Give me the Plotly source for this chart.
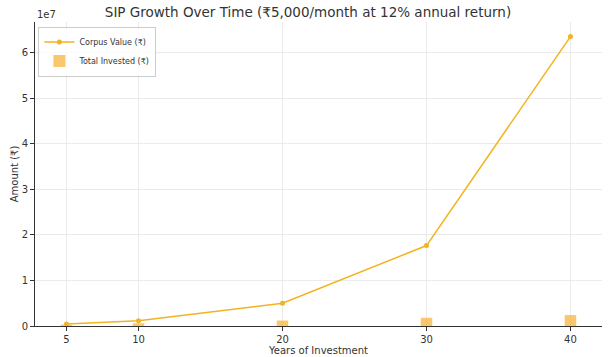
import plotly.graph_objects as go

years = [5, 10, 20, 30, 40]
corpus = [412000, 1160000, 4990000, 17650000, 63500000]
invested = [300000, 600000, 1200000, 1800000, 2400000]
ytick_vals = [0, 1e7, 2e7, 3e7, 4e7, 5e7, 6e7]
ytick_text = ["0", "1", "2", "3", "4", "5", "6"]

line_color = "#f2b321"
bar_color = "rgba(250,180,60,0.75)"

fig = go.Figure()
fig.add_trace(go.Scatter(
    x=years, y=corpus, mode="lines+markers", name="Corpus Value (₹)",
    line=dict(color=line_color, width=1.5),
    marker=dict(color=line_color, size=5),
))
fig.add_trace(go.Bar(
    x=years, y=invested, name="Total Invested (₹)", width=0.8,
    marker=dict(color=bar_color, line=dict(width=0)),
))

fig.update_layout(
    width=616, height=357,
    margin=dict(l=35, r=14, t=22, b=31),
    paper_bgcolor="white", plot_bgcolor="white",
    font=dict(family="DejaVu Sans", color="#333333", size=10),
    title=dict(text="SIP Growth Over Time (₹5,000/month at 12% annual return)",
               x=0.5, xanchor="center", yref="container", y=0.966, yanchor="middle",
               font=dict(size=13.5, color="#333333"), automargin=False),
    showlegend=True,
    legend=dict(x=0.006, y=0.985, xanchor="left", yanchor="top",
                bgcolor="rgba(255,255,255,0.8)", bordercolor="#cccccc", borderwidth=1,
                font=dict(size=8, color="#333333"), tracegroupgap=0,
                itemwidth=30),
    xaxis=dict(
        title=dict(text="Years of Investment", font=dict(size=10), standoff=0),
        range=[2.81, 42.19], tickvals=years, automargin=False,
        showline=True, linecolor="#333333", linewidth=1,
        ticks="outside", ticklen=4, tickcolor="#333333",
        showgrid=True, gridcolor="#ebebeb", gridwidth=0.8, zeroline=False,
    ),
    yaxis=dict(
        title=dict(text="Amount (₹)", font=dict(size=10), standoff=1),
        range=[0, 6.67e7], tickvals=ytick_vals, ticktext=ytick_text, automargin=False,
        showline=True, linecolor="#333333", linewidth=1,
        ticks="outside", ticklen=4, tickcolor="#333333",
        showgrid=True, gridcolor="#ebebeb", gridwidth=0.8, zeroline=False,
    ),
    annotations=[dict(text="1e7", xref="paper", yref="paper", x=0, y=1.0,
                      xanchor="left", yanchor="middle", showarrow=False,
                      font=dict(size=10, color="#333333"), yshift=8)],
)

fig.write_html("out.html", config={"displayModeBar": False},
               post_script="document.body.style.margin='0';")
